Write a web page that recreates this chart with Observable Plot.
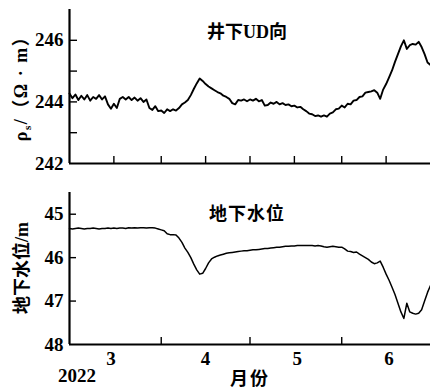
<!DOCTYPE html>
<html><head><meta charset="utf-8">
<script src="https://cdn.jsdelivr.net/npm/d3@7"></script>
<script src="https://cdn.jsdelivr.net/npm/@observablehq/plot@0.6"></script>
<style>body{margin:0;background:#fff} svg{display:block}</style>
</head><body><div id="chart"></div>
<script>
// daily values starting 2022-03-01
const startDate = "2022-03-01";
const resistivity = [
244.27,244.12,244.24,244.06,244.20,244.08,244.22,244.04,244.16,244.10,
244.22,244.08,244.18,243.92,243.78,243.94,243.80,244.10,244.16,244.08,
244.16,244.06,244.14,244.04,244.12,244.00,244.08,243.80,243.74,243.86,
243.70,243.72,243.64,243.76,243.70,243.76,243.72,243.80,243.92,243.98,
244.06,244.22,244.42,244.60,244.76,244.68,244.58,244.50,244.44,244.38,
244.32,244.28,244.20,244.16,244.10,243.96,243.92,244.06,244.04,244.08,
244.02,244.08,244.04,244.10,244.02,244.06,243.88,243.90,243.98,243.94,
244.00,243.92,243.96,243.90,243.92,243.86,243.88,243.82,243.84,243.76,
243.70,243.62,243.60,243.54,243.56,243.52,243.56,243.52,243.62,243.66,
243.76,243.78,243.88,243.82,243.94,243.92,244.04,244.06,244.16,244.18,
244.30,244.32,244.34,244.38,244.30,244.10,244.40,244.58,244.80,245.02,
245.30,245.55,245.80,246.00,245.72,245.84,245.88,245.86,245.95,245.78,
245.55,245.28,245.20];
const waterLevel = [
45.33,45.34,45.33,45.32,45.33,45.34,45.33,45.33,45.32,45.33,
45.34,45.33,45.33,45.32,45.33,45.32,45.33,45.32,45.32,45.33,
45.31,45.32,45.31,45.32,45.31,45.31,45.32,45.31,45.31,45.32,
45.34,45.36,45.38,45.45,45.47,45.47,45.48,45.55,45.65,45.78,
45.88,46.00,46.15,46.28,46.38,46.36,46.25,46.12,46.03,45.99,
45.96,45.94,45.92,45.90,45.89,45.88,45.87,45.86,45.85,45.84,
45.84,45.83,45.82,45.82,45.81,45.80,45.79,45.79,45.78,45.77,
45.76,45.76,45.75,45.74,45.74,45.73,45.73,45.72,45.72,45.72,
45.72,45.72,45.72,45.73,45.72,45.73,45.75,45.76,45.75,45.74,
45.75,45.76,45.76,45.80,45.85,45.86,45.88,45.87,45.92,45.96,
46.00,46.04,46.10,46.14,46.12,46.08,46.22,46.38,46.52,46.68,
46.85,47.05,47.25,47.40,47.05,47.25,47.28,47.30,47.28,47.20,
47.00,46.80,46.64];
const xDomainDates = ["2022-03-01","2022-07-01"];
const topXTicks = ["2022-03-16","2022-04-01","2022-04-16","2022-05-01","2022-05-16","2022-06-01","2022-06-16"];
const bottomXTicks = ["2022-04-01","2022-05-01","2022-06-01"];
const monthLabels = ["3","4","5","6"];
const monthLabelDates = ["2022-03-15","2022-04-16","2022-05-17","2022-06-17"];
const topYTicks = [243,244,245,246];
const topYLabels = [242,244,246];
const bottomYTicks = [45,46,47];
const bottomYLabels = [45,46,47,48];
const topTitle = "井下UD向";
const bottomTitle = "地下水位";
const bottomYTitle = "地下水位/m";
const yearLabel = "2022";
const xTitle = "月份";

const parse = s => new Date(s + "T00:00:00Z");
const t0 = parse(startDate);
const dayDate = i => d3.utcDay.offset(t0, i);
const topData = resistivity.map((v, i) => ({date: dayDate(i), v}));
const botData = waterLevel.map((v, i) => ({date: dayDate(i), v}));
const xDomain = xDomainDates.map(parse);
const serif = "'Liberation Serif', 'Noto Sans CJK SC', serif";
const mixed = "'Liberation Serif', 'Noto Sans CJK SC', sans-serif";

const W = 430, ML = 69;
const style = {fontFamily: serif, fontSize: "18px", fontWeight: "bold", color: "#000", background: "#fff", overflow: "visible"};

const topH = 175, topMT = 9, topMB = 12;
const topPlot = Plot.plot({
  width: W, height: topH, marginTop: topMT, marginBottom: topMB, marginLeft: ML, marginRight: 0,
  style,
  x: {type: "utc", domain: xDomain, axis: null},
  y: {domain: [242, 247], axis: null},
  marks: [
    Plot.line(topData, {x: "date", y: "v", stroke: "#000", strokeWidth: 1.9}),
    Plot.tickX(topXTicks.map(parse), {x: d => d, stroke: "#000", strokeWidth: 1.4, insetTop: topH - topMT - topMB - 7}),
    Plot.tickY(topYTicks, {y: d => d, stroke: "#000", strokeWidth: 1.4, insetRight: W - ML - 8}),
    Plot.axisY(topYLabels, {tickSize: 0, tickPadding: 6, label: null, fontSize: 19, fontWeight: "bold", fill: "#000"}),
    Plot.ruleX([xDomain[0]], {stroke: "#000", strokeWidth: 2.2}),
    Plot.ruleY([242], {stroke: "#000", strokeWidth: 2.2})
  ]
});

const botH = 215, botMT = 17, botMB = 46;
const botPlot = Plot.plot({
  width: W, height: botH, marginTop: botMT, marginBottom: botMB, marginLeft: ML, marginRight: 0,
  style,
  x: {type: "utc", domain: xDomain, axis: null},
  y: {domain: [44.5, 48], reverse: true, axis: null},
  marks: [
    Plot.line(botData, {x: "date", y: "v", stroke: "#000", strokeWidth: 1.5}),
    Plot.tickX(bottomXTicks.map(parse), {x: d => d, stroke: "#000", strokeWidth: 1.4, insetTop: botH - botMT - botMB - 7}),
    Plot.tickY(bottomYTicks, {y: d => d, stroke: "#000", strokeWidth: 1.4, insetRight: W - ML - 7}),
    Plot.axisY(bottomYLabels, {tickSize: 0, tickPadding: 6, label: null, fontSize: 19, fontWeight: "bold", fill: "#000"}),
    Plot.text(monthLabels.map((m, i) => ({m, date: parse(monthLabelDates[i])})), {x: "date", text: "m", frameAnchor: "bottom", lineAnchor: "top", dy: 7, fontSize: 19, fontWeight: "bold", fill: "#000"}),
    Plot.ruleX([xDomain[0]], {stroke: "#000", strokeWidth: 2.2}),
    Plot.ruleY([48], {stroke: "#000", strokeWidth: 2.2})
  ]
});

function addText(svg, txt, x, y, opts = {}) {
  const t = d3.select(svg).append("text")
    .attr("x", x).attr("y", y)
    .attr("font-family", opts.family || mixed)
    .attr("font-size", opts.size || 18)
    .attr("font-weight", "bold")
    .attr("fill", "#000")
    .attr("text-anchor", opts.anchor || "middle")
    .attr("letter-spacing", opts.ls || 0);
  if (opts.rotate) t.attr("transform", `rotate(-90 ${x} ${y})`);
  if (txt != null) t.text(txt);
  return t;
}

// top panel texts
addText(topPlot, topTitle, 247, 38, {size: 18});
const yl = addText(topPlot, null, 27, 84, {rotate: true, size: 18, ls: 1.5});
yl.append("tspan").text("ρ");
yl.append("tspan").attr("font-size", 11).attr("dy", 4).text("s");
yl.append("tspan").attr("dy", -4).text("/（Ω · m）");

// bottom panel texts
addText(botPlot, bottomTitle, 247, 45, {size: 18, ls: 1});
addText(botPlot, bottomYTitle, 28, 93, {rotate: true, size: 18});
addText(botPlot, yearLabel, 58, 207, {anchor: "start", family: serif, size: 19});
addText(botPlot, xTitle, 230, 210, {anchor: "start", size: 18, ls: 2});

const c = document.getElementById("chart");
c.append(topPlot);
c.append(botPlot);
</script>
</body></html>
